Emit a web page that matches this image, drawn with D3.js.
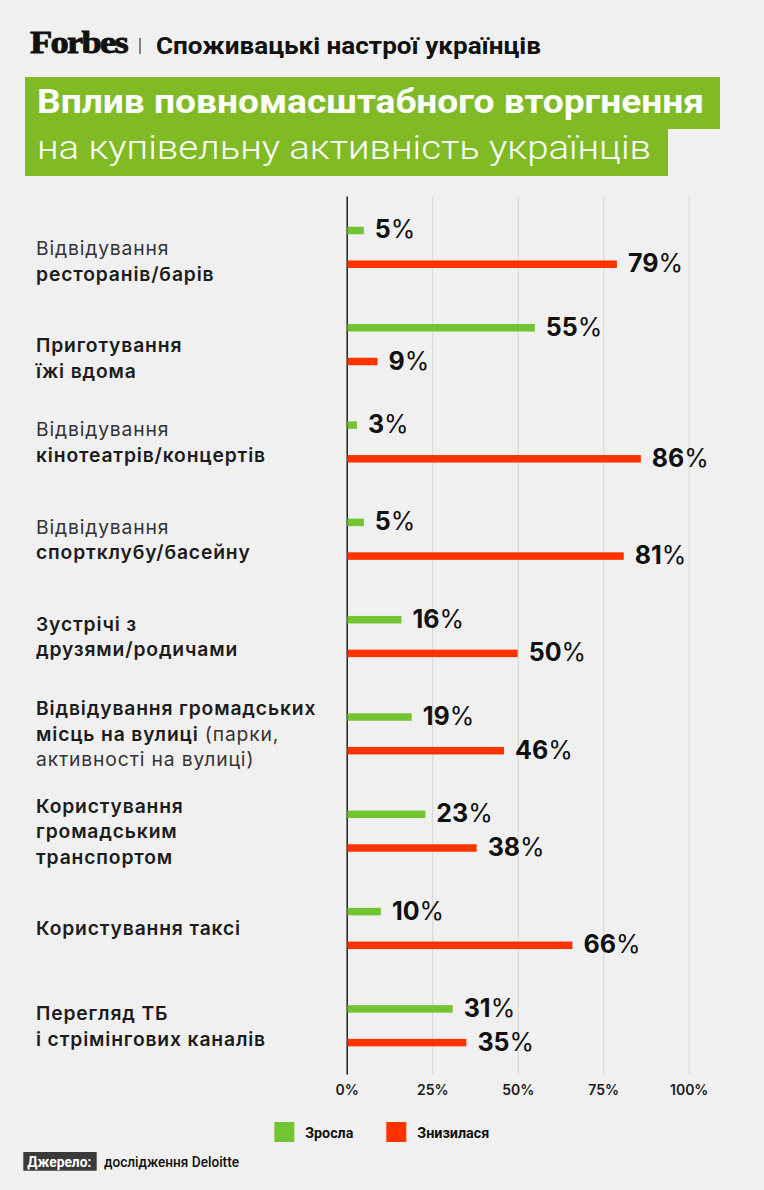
<!DOCTYPE html>
<html>
<head>
<meta charset="utf-8">
<script src="https://cdn.jsdelivr.net/npm/d3@7/dist/d3.min.js"></script>
<style>
  html, body { margin: 0; padding: 0; background: #f0f0f0; }
  svg { display: block; }
</style>
</head>
<body>
<svg id="chart" width="764" height="1190"></svg>
<script>
// ---------- DATA ----------
const categories = [
  "Відвідування ресторанів/барів",
  "Приготування їжі вдома",
  "Відвідування кінотеатрів/концертів",
  "Відвідування спортклубу/басейну",
  "Зустрічі з друзями/родичами",
  "Відвідування громадських місць на вулиці (парки, активності на вулиці)",
  "Користування громадським транспортом",
  "Користування таксі",
  "Перегляд ТБ і стрімінгових каналів"
];
// label lines; **text** = bold segment
const labelLines = [
  ["Відвідування", "**ресторанів/барів**"],
  ["**Приготування**", "**їжі вдома**"],
  ["Відвідування", "**кінотеатрів/концертів**"],
  ["Відвідування", "**спортклубу/басейну**"],
  ["**Зустрічі з**", "**друзями/родичами**"],
  ["**Відвідування громадських**", "**місць на вулиці** (парки,", "активності на вулиці)"],
  ["**Користування**", "**громадським**", "**транспортом**"],
  ["**Користування таксі**"],
  ["**Перегляд ТБ**", "**і стрімінгових каналів**"]
];
const grew = [5, 55, 3, 5, 16, 19, 23, 10, 31];
const fell = [79, 9, 86, 81, 50, 46, 38, 66, 35];
const seriesNames = ["Зросла", "Знизилася"];
const tickValues = [0, 25, 50, 75, 100];

const headerBrand = "Forbes";
const headerSubtitle = "Споживацькі настрої українців";
const titleLine1 = "Вплив повномасштабного вторгнення";
const titleLine2 = "на купівельну активність українців";
const sourceLabel = "Джерело:";
const sourceText = "дослідження Deloitte";

// ---------- STYLE / LAYOUT ----------
const colors = ["#72c530", "#ff3300"];
const titleGreen = "#80bb26";
const FONT = "Inter, 'Noto Sans', sans-serif";
const HFONT = "Roboto, 'Noto Sans', sans-serif";

const svg = d3.select("#chart");
svg.append("rect").attr("width", 764).attr("height", 1190).attr("fill", "#f0f0f0");

// Header
svg.append("text").attr("x", 30).attr("y", 53)
  .attr("font-family", "'Liberation Serif', 'DejaVu Serif', serif")
  .attr("font-weight", 700).attr("font-size", 32)
  .attr("textLength", 97).attr("lengthAdjust", "spacingAndGlyphs")
  .attr("fill", "#111").attr("stroke", "#111").attr("stroke-width", 0.9)
  .attr("letter-spacing", -1.5)
  .text(headerBrand);
svg.append("line").attr("x1", 140).attr("x2", 140).attr("y1", 38).attr("y2", 54)
  .attr("stroke", "#444").attr("stroke-width", 1.3);
svg.append("text").attr("x", 156).attr("y", 54)
  .attr("font-family", HFONT).attr("font-weight", 700).attr("font-size", 24.5)
  .attr("textLength", 385).attr("lengthAdjust", "spacingAndGlyphs")
  .attr("fill", "#111").text(headerSubtitle);

// Title blocks
svg.append("rect").attr("x", 25).attr("y", 77).attr("width", 695).attr("height", 52).attr("fill", titleGreen);
svg.append("rect").attr("x", 25).attr("y", 128).attr("width", 643).attr("height", 48).attr("fill", titleGreen);
svg.append("text").attr("x", 37).attr("y", 112.5)
  .attr("font-family", HFONT).attr("font-weight", 700).attr("font-size", 33)
  .attr("textLength", 667).attr("lengthAdjust", "spacingAndGlyphs")
  .attr("fill", "#fff").text(titleLine1);
svg.append("text").attr("x", 37).attr("y", 158.5)
  .attr("font-family", HFONT).attr("font-weight", 300).attr("font-size", 34)
  .attr("textLength", 614).attr("lengthAdjust", "spacingAndGlyphs")
  .attr("fill", "#fff").text(titleLine2);

// Scales
const x = d3.scaleLinear().domain([0, 100]).range([346.7, 688.7]);
const plotTop = 198.7, plotBottom = 1074.4;
const y = d3.scaleBand().domain(categories).range([plotTop, plotBottom]).paddingInner(0).paddingOuter(0);
const ySub = d3.scalePoint().domain(seriesNames).range([31.8, 65.5]);
const color = d3.scaleOrdinal().domain(seriesNames).range(colors);

// Grid / axis
const axisG = svg.append("g").attr("transform", `translate(0,${plotBottom})`);
axisG.call(d3.axisBottom(x).tickValues(tickValues).tickFormat(d => d + "%")
  .tickSize(-(plotBottom - 196.5)).tickPadding(0));
axisG.select(".domain").remove();
axisG.selectAll(".tick line").attr("stroke", (d) => d === 0 ? "#111" : "#d5d5d5")
  .attr("stroke-width", d => d === 0 ? 1.4 : 1);
axisG.selectAll(".tick text")
  .attr("y", 20.5).attr("dy", 0)
  .attr("font-family", FONT).attr("font-weight", 600).attr("font-size", 14)
  .attr("fill", "#1a1a1a");
axisG.select(".tick line").raise();

// Bars
const rows = categories.map((c, i) => ({ cat: c, i, values: [
  { s: seriesNames[0], v: grew[i] }, { s: seriesNames[1], v: fell[i] } ] }));
const barH = 7.5;
const rowG = svg.selectAll("g.row").data(rows).join("g").attr("class", "row")
  .attr("transform", d => `translate(0,${y(d.cat)})`);

rowG.selectAll("rect.bar").data(d => d.values).join("rect").attr("class", "bar")
  .attr("x", x(0) + 0.7)
  .attr("y", d => ySub(d.s) - barH / 2)
  .attr("width", d => x(d.v) - x(0) - 0.7)
  .attr("height", barH)
  .attr("fill", d => color(d.s));

// Value labels
const vl = rowG.selectAll("text.val").data(d => d.values).join("text").attr("class", "val")
  .attr("x", d => x(d.v) + 11)
  .attr("y", d => ySub(d.s) + 8)
  .attr("font-family", FONT).attr("font-size", 25).attr("fill", "#111");
vl.append("tspan").attr("font-weight", 650).text(d => d.v);
vl.append("tspan").attr("font-weight", 400).text("%");

// Category labels
const labelSize = 19.3, lineH = 25.5, capH = 0.727 * labelSize;
const labelNudge = [13.4, 13.4, 0, 0, 0, 0, 0, 0, 0];
rowG.each(function (d) {
  const lines = labelLines[d.i];
  const center = y.bandwidth() / 2 + labelNudge[d.i];
  const firstBase = center - (lines.length - 1) * lineH / 2 + capH / 2;
  const g = d3.select(this);
  lines.forEach((ln, k) => {
    const t = g.append("text").attr("x", 36).attr("y", firstBase + k * lineH)
      .attr("font-family", FONT).attr("font-size", labelSize)
      .attr("letter-spacing", 0.85);
    ln.split("**").forEach((seg, j) => {
      if (!seg) return;
      const bold = j % 2 === 1;
      t.append("tspan").attr("font-weight", bold ? 600 : 400)
        .attr("fill", bold ? "#1c1c1c" : "#333").text(seg);
    });
  });
});

// Legend
const legendX = [274.3, 386.3];
const lg = svg.selectAll("g.legend").data(seriesNames).join("g").attr("class", "legend")
  .attr("transform", (d, i) => `translate(${legendX[i]},1122)`);
lg.append("rect").attr("width", 20).attr("height", 20).attr("fill", d => color(d));
lg.append("text").attr("x", 31).attr("y", 15.5)
  .attr("font-family", HFONT).attr("font-weight", 700).attr("font-size", 15.5)
  .attr("textLength", (d, i) => i === 0 ? 48 : 72).attr("lengthAdjust", "spacingAndGlyphs")
  .attr("fill", "#111").text(d => d);

// Source
svg.append("rect").attr("x", 23.3).attr("y", 1152).attr("width", 73.4).attr("height", 18.7).attr("fill", "#3a3a3a");
svg.append("text").attr("x", 27.3).attr("y", 1166.5)
  .attr("font-family", HFONT).attr("font-weight", 700).attr("font-size", 15.5)
  .attr("textLength", 64).attr("lengthAdjust", "spacingAndGlyphs")
  .attr("fill", "#fff").text(sourceLabel);
svg.append("text").attr("x", 104).attr("y", 1166.5)
  .attr("font-family", HFONT).attr("font-weight", 500).attr("font-size", 15.5)
  .attr("textLength", 135).attr("lengthAdjust", "spacingAndGlyphs")
  .attr("fill", "#111").text(sourceText);
</script>
</body>
</html>
